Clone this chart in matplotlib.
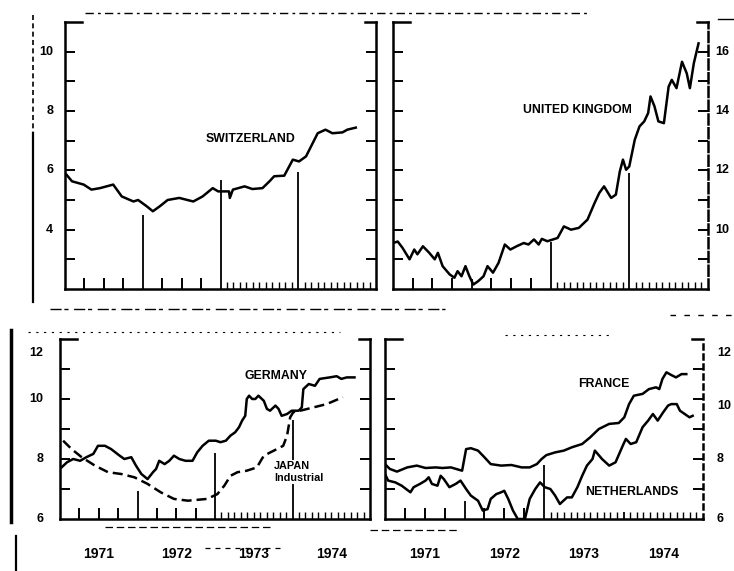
import matplotlib.pyplot as plt
from matplotlib.lines import Line2D

plt.rcParams['font.family'] = ['Liberation Sans', 'DejaVu Sans']
plt.rcParams['font.weight'] = 'bold'

W, H = 734, 571

# Switzerland
swiss_t = [1971.02, 1971.09, 1971.24, 1971.34, 1971.45, 1971.62, 1971.73, 1971.88,
           1971.94, 1972.05, 1972.13, 1972.22, 1972.32, 1972.47, 1972.65, 1972.77,
           1972.90, 1972.97, 1973.05, 1973.11, 1973.12, 1973.16, 1973.31, 1973.41,
           1973.54, 1973.63, 1973.69, 1973.82, 1973.93, 1974.01, 1974.10, 1974.25,
           1974.35, 1974.44, 1974.57, 1974.63, 1974.74]
swiss_v = [5.85, 5.63, 5.52, 5.35, 5.40, 5.52, 5.12, 4.95,
           5.00, 4.79, 4.62, 4.79, 5.00, 5.07, 4.95, 5.12,
           5.40, 5.29, 5.29, 5.29, 5.07, 5.35, 5.46, 5.37,
           5.40, 5.63, 5.80, 5.82, 6.36, 6.30, 6.47, 7.25,
           7.37, 7.25, 7.28, 7.37, 7.44]

# United Kingdom
uk_t = [1971.00, 1971.06, 1971.12, 1971.21, 1971.27, 1971.31, 1971.38, 1971.46,
        1971.53, 1971.57, 1971.63, 1971.72, 1971.78, 1971.82, 1971.87, 1971.92,
        1971.97, 1972.02, 1972.08, 1972.15, 1972.20, 1972.27, 1972.34, 1972.42,
        1972.49, 1972.57, 1972.66, 1972.72, 1972.79, 1972.85, 1972.89, 1972.96,
        1973.09, 1973.17, 1973.26, 1973.36, 1973.47, 1973.56, 1973.62, 1973.68,
        1973.77, 1973.83, 1973.88, 1973.92, 1973.96, 1974.00, 1974.07, 1974.13,
        1974.19, 1974.24, 1974.27, 1974.32, 1974.37, 1974.44, 1974.50, 1974.54,
        1974.60, 1974.67, 1974.73, 1974.77, 1974.82, 1974.88]
uk_v = [9.55, 9.60, 9.39, 9.00, 9.33, 9.17, 9.44, 9.22,
        9.00, 9.22, 8.77, 8.49, 8.38, 8.60, 8.43, 8.77,
        8.43, 8.15, 8.26, 8.43, 8.77, 8.55, 8.88, 9.50,
        9.33, 9.44, 9.55, 9.50, 9.67, 9.50, 9.69, 9.61,
        9.72, 10.11, 10.00, 10.06, 10.34, 10.90, 11.24, 11.46,
        11.07, 11.18, 11.96, 12.36, 12.02, 12.13, 13.03, 13.48,
        13.65, 13.93, 14.49, 14.16, 13.65, 13.59, 14.82, 15.05,
        14.77, 15.66, 15.27, 14.77, 15.61, 16.28]

# Germany
germany_t = [1971.02, 1971.09, 1971.17, 1971.26, 1971.34, 1971.43, 1971.49, 1971.58,
             1971.66, 1971.77, 1971.83, 1971.92, 1971.98, 1972.05, 1972.13, 1972.20,
             1972.24, 1972.28, 1972.35, 1972.41, 1972.47, 1972.54, 1972.62, 1972.71,
             1972.77, 1972.84, 1972.92, 1973.01, 1973.07, 1973.14, 1973.20, 1973.26,
             1973.31, 1973.35, 1973.39, 1973.41, 1973.44, 1973.48, 1973.52, 1973.56,
             1973.63, 1973.67, 1973.71, 1973.78, 1973.82, 1973.86, 1973.93, 1973.99,
             1974.08, 1974.12, 1974.14, 1974.21, 1974.29, 1974.35, 1974.48, 1974.57,
             1974.63, 1974.70, 1974.80]
germany_v = [7.72, 7.89, 8.00, 7.94, 8.06, 8.17, 8.44, 8.44,
             8.33, 8.11, 8.00, 8.06, 7.78, 7.50, 7.33, 7.56,
             7.67, 7.94, 7.83, 7.94, 8.11, 8.00, 7.94, 7.94,
             8.22, 8.44, 8.61, 8.61, 8.56, 8.61, 8.78, 8.89,
             9.06, 9.28, 9.44, 10.00, 10.11, 10.00, 10.00, 10.11,
             9.94, 9.67, 9.61, 9.78, 9.67, 9.44, 9.50, 9.61,
             9.61, 9.72, 10.33, 10.50, 10.44, 10.67, 10.72, 10.76,
             10.67, 10.72, 10.72]

# Japan, industrial
japan_t = [1971.04, 1971.15, 1971.28, 1971.45, 1971.62, 1971.79, 1971.96, 1972.13,
           1972.30, 1972.47, 1972.65, 1972.90, 1973.03, 1973.12, 1973.20, 1973.29,
           1973.41, 1973.54, 1973.63, 1973.76, 1973.88, 1973.93, 1973.97, 1974.01,
           1974.10, 1974.27, 1974.44, 1974.65]
japan_v = [8.61, 8.33, 8.06, 7.78, 7.56, 7.50, 7.39, 7.17,
           6.89, 6.67, 6.61, 6.67, 6.83, 7.11, 7.44, 7.56,
           7.61, 7.72, 8.11, 8.28, 8.44, 8.78, 9.39, 9.56,
           9.61, 9.72, 9.83, 10.06]

# France
france_t = [1971.00, 1971.06, 1971.15, 1971.28, 1971.40, 1971.51, 1971.64, 1971.72,
            1971.83, 1971.93, 1971.97, 1972.02, 1972.08, 1972.17, 1972.25, 1972.33,
            1972.46, 1972.59, 1972.72, 1972.82, 1972.91, 1972.97, 1973.03, 1973.14,
            1973.25, 1973.35, 1973.48, 1973.58, 1973.69, 1973.82, 1973.94, 1974.01,
            1974.07, 1974.13, 1974.24, 1974.32, 1974.41, 1974.45, 1974.49, 1974.54,
            1974.60, 1974.66, 1974.73, 1974.79]
france_v = [7.83, 7.67, 7.58, 7.72, 7.78, 7.70, 7.72, 7.70,
            7.72, 7.64, 7.61, 8.33, 8.36, 8.28, 8.06, 7.83,
            7.78, 7.80, 7.72, 7.72, 7.83, 8.00, 8.13, 8.22,
            8.28, 8.39, 8.50, 8.72, 9.00, 9.17, 9.20, 9.39,
            9.83, 10.11, 10.17, 10.33, 10.39, 10.33, 10.67, 10.89,
            10.80, 10.72, 10.83, 10.83]

# Netherlands
neth_t = [1971.00, 1971.04, 1971.13, 1971.21, 1971.32, 1971.36, 1971.44, 1971.51,
          1971.55, 1971.59, 1971.66, 1971.70, 1971.74, 1971.81, 1971.89, 1971.95,
          1972.02, 1972.08, 1972.17, 1972.23, 1972.29, 1972.33, 1972.40, 1972.46,
          1972.50, 1972.55, 1972.61, 1972.67, 1972.76, 1972.82, 1972.89, 1972.95,
          1973.01, 1973.08, 1973.14, 1973.20, 1973.29, 1973.35, 1973.42, 1973.48,
          1973.54, 1973.61, 1973.64, 1973.73, 1973.82, 1973.90, 1973.99, 1974.03,
          1974.09, 1974.16, 1974.24, 1974.31, 1974.37, 1974.43, 1974.50, 1974.56,
          1974.60, 1974.67, 1974.71, 1974.77, 1974.83, 1974.87]
neth_v = [7.50, 7.28, 7.22, 7.11, 6.89, 7.06, 7.17, 7.28,
          7.39, 7.17, 7.11, 7.44, 7.33, 7.06, 7.17, 7.28,
          7.00, 6.78, 6.61, 6.28, 6.33, 6.67, 6.83, 6.89,
          6.94, 6.67, 6.28, 6.00, 6.00, 6.67, 7.00, 7.22,
          7.06, 7.00, 6.78, 6.50, 6.72, 6.72, 7.06, 7.44,
          7.78, 8.00, 8.28, 8.00, 7.78, 7.89, 8.44, 8.67,
          8.50, 8.56, 9.06, 9.28, 9.50, 9.28, 9.56, 9.78,
          9.83, 9.83, 9.61, 9.50, 9.39, 9.44]

year_starts = [1972, 1973, 1974]
swiss_drop = [4.5, 5.68, 5.95]
uk_drop = [8.35, 9.6, 11.9]
germany_drop = [6.95, 8.2, 9.3]
france_drop = [6.6, 7.8, 6.25]

quarter_ticks = [1971.25, 1971.5, 1971.75, 1972.25, 1972.5, 1972.75]
month_ticks = [y + m / 12 for y in (1973, 1974) for m in range(1, 12)]
year_labels = [1971, 1972, 1973, 1974]

swiss_labels = [4, 6, 8, 10]
uk_labels = [10, 12, 14, 16]
lower_labels = [6, 8, 10, 12]

fig = plt.figure(figsize=(W / 100, H / 100), dpi=100)


def px_axes(x0, y0, x1, y1):
    return fig.add_axes([x0 / W, 1 - y1 / H, (x1 - x0) / W, (y1 - y0) / H])


def panel(box, ylim, right_style='-'):
    ax = px_axes(*box)
    ax.set_xlim(1971, 1975)
    ax.set_ylim(*ylim)
    ax.spines['top'].set_visible(False)
    for side in ('left', 'right', 'bottom'):
        ax.spines[side].set_linewidth(1.8)
    ax.spines['right'].set_linestyle(right_style)
    # short corner stubs instead of a full top rule
    for xs in ([0, 0.055], [0.965, 1]):
        ax.plot(xs, [1, 1], transform=ax.transAxes, color='k', lw=1.8,
                clip_on=False, solid_capstyle='projecting')
    ax.set_yticks(range(int(ylim[0]) + 1, int(ylim[1])))
    ax.tick_params(axis='y', direction='in', left=True, right=True,
                   length=7, width=1.4, labelleft=False)
    ax.set_xticks(quarter_ticks)
    ax.set_xticks(month_ticks, minor=True)
    ax.tick_params(axis='x', which='major', direction='in', length=8,
                   width=1.4, labelbottom=False)
    ax.tick_params(axis='x', which='minor', direction='in', length=5,
                   width=1.0)
    return ax


def ylabels(ax, values, side, gap, nudge=None):
    nudge = nudge or {}
    x, ha, dx = (0, 'right', -gap) if side == 'left' else (1, 'left', gap)
    for v in values:
        ax.annotate(str(v), xy=(x, v), xycoords=('axes fraction', 'data'),
                    xytext=(dx, nudge.get(v, 0)), textcoords='offset points',
                    ha=ha, va='center', fontsize=9, fontweight='bold',
                    annotation_clip=False)


def years(ax):
    for y in year_labels:
        ax.annotate(str(y), xy=(y + 0.5, 0), xycoords=('data', 'axes fraction'),
                    xytext=(0, -25), textcoords='offset points',
                    ha='center', va='center', fontsize=10, fontweight='bold')


def rule(x0, x1, y0, y1=None, lw=1.0, ls='-'):
    y1 = y0 if y1 is None else y1
    fig.add_artist(Line2D([x0 / W, x1 / W], [1 - y0 / H, 1 - y1 / H],
                          transform=fig.transFigure, color='k', lw=lw, ls=ls))


line_kw = dict(color='k', lw=1.8, solid_joinstyle='round')
blank = dict(facecolor='white', edgecolor='none', pad=0.5)

# top left: Switzerland
ax1 = panel((65, 22, 376, 289), (2, 11))
ax1.plot(swiss_t, swiss_v, **line_kw)
ax1.vlines(year_starts, 2, swiss_drop, color='k', lw=1.3)
ax1.text(1973.38, 7.06, 'SWITZERLAND', ha='center', va='center', fontsize=8.8)
ylabels(ax1, swiss_labels, 'left', 8.5)

# top right: United Kingdom
ax2 = panel((393, 22, 708, 289), (8, 17), right_style=(0, (4, 1.5)))
ax2.plot(uk_t, uk_v, **line_kw)
ax2.vlines(year_starts, 8, uk_drop, color='k', lw=1.3)
ax2.text(1973.34, 14.03, 'UNITED KINGDOM', ha='center', va='center', fontsize=8.8)
ylabels(ax2, uk_labels, 'right', 5.5)

# bottom left: Germany and Japan
ax3 = panel((60, 339, 370, 519), (6, 12))
ax3.plot(germany_t, germany_v, **line_kw)
ax3.plot(japan_t, japan_v, color='k', lw=1.8, dashes=(4, 2))
ax3.vlines(year_starts, 6, germany_drop, color='k', lw=1.3)
ax3.text(1973.79, 10.77, 'GERMANY', ha='center', va='center', fontsize=8.8)
ax3.text(1973.76, 7.77, 'JAPAN', ha='left', va='center', fontsize=7.8,
         bbox=blank, zorder=3)
ax3.text(1973.76, 7.37, 'Industrial', ha='left', va='center', fontsize=7.8,
         bbox=blank, zorder=3)
ylabels(ax3, lower_labels, 'left', 12, {12: -10})
years(ax3)

# bottom right: France and Netherlands
ax4 = panel((385, 339, 703, 519), (6, 12), right_style=(0, (2, 2)))
ax4.plot(france_t, france_v, **line_kw)
ax4.plot(neth_t, neth_v, **line_kw)
ax4.vlines(year_starts, 6, france_drop, color='k', lw=1.3)
ax4.text(1973.75, 10.5, 'FRANCE', ha='center', va='center', fontsize=8.8)
ax4.text(1974.1, 6.9, 'NETHERLANDS', ha='center', va='center', fontsize=8.8)
ylabels(ax4, lower_labels, 'right', 10, {12: -10, 10: -5})
years(ax4)

# page rules and margin bars
rule(85, 590, 13, lw=1.0, ls=(0, (6, 3, 2, 3)))
rule(718, 734, 19, lw=1.0)
rule(33, 33, 15, 133, lw=1.2, ls=(0, (3, 2)))
rule(33, 33, 133, 302, lw=1.6)
rule(50, 445, 309, lw=1.0, ls=(0, (8, 2, 3, 4)))
rule(670, 734, 315, lw=1.0, ls=(0, (4, 6)))
rule(28, 340, 332, lw=0.8, ls=(0, (2, 5)))
rule(505, 610, 335, lw=0.8, ls=(0, (2, 5)))
rule(11, 11, 330, 522, lw=2.5)
rule(16, 16, 536, 571, lw=1.6)
rule(105, 270, 527, lw=0.9, ls=(0, (6, 3)))
rule(205, 280, 548, lw=0.9, ls=(0, (4, 4)))
rule(370, 460, 530, lw=0.9, ls=(0, (6, 3)))

fig.savefig('out.png', dpi=100, facecolor='white')
